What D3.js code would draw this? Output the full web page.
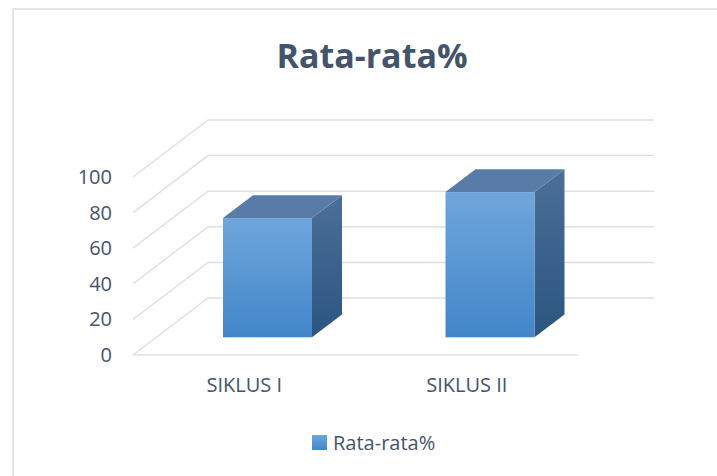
<!DOCTYPE html>
<html>
<head>
<meta charset="utf-8">
<script src="https://cdn.jsdelivr.net/npm/d3@7"></script>
<style>
  body { margin: 0; background: #fff; }
  text { font-family: "Open Sans", sans-serif; fill: #44546A; }
</style>
</head>
<body>
<div id="chart"></div>
<script>
// data
const categories = ["SIKLUS I", "SIKLUS II"];
const values = [67, 81.6];
const seriesName = "Rata-rata%";
const yTicks = [0, 20, 40, 60, 80, 100];

const width = 717, height = 476;
const svg = d3.select("#chart").append("svg")
  .attr("width", width)
  .attr("height", height);

// chart border
svg.append("rect")
  .attr("x", 13).attr("y", 9)
  .attr("width", 720).attr("height", 480)
  .attr("fill", "none")
  .attr("stroke", "#D9DDE3")
  .attr("stroke-width", 1.5);

// gradients
const defs = svg.append("defs");
function grad(id, c1, c2) {
  const g = defs.append("linearGradient").attr("id", id)
    .attr("x1", 0).attr("y1", 0).attr("x2", 0).attr("y2", 1);
  g.append("stop").attr("offset", "0%").attr("stop-color", c1);
  g.append("stop").attr("offset", "100%").attr("stop-color", c2);
}
grad("front", "#6FA6DC", "#4286C9");
grad("side", "#4B6F98", "#2B5580");

// scales (front plane)
const y = d3.scaleLinear().domain([0, 100]).range([355, 177]);
const x = d3.scaleBand().domain(categories).range([133, 578])
  .paddingInner(0.6).paddingOuter(0.3);

// depth of the floor
const depthX = 75, depthY = -57;
const proj = (px, py, f) => [px + f * depthX, py + f * depthY];

// gridlines: side wall + back wall
const grid = svg.append("g")
  .attr("stroke", "#DDE0E5")
  .attr("stroke-width", 1.5)
  .attr("fill", "none");
yTicks.forEach(t => {
  const a = [133, y(t)];
  const b = proj(133, y(t), 1);
  grid.append("path").attr("d", d3.line()([a, b, [654, b[1]]]));
});
// floor front edge
grid.append("line")
  .attr("x1", 133).attr("y1", y(0))
  .attr("x2", 578).attr("y2", y(0));

// tick labels
svg.append("g").selectAll("text")
  .data(yTicks)
  .join("text")
  .attr("x", 112)
  .attr("y", d => y(d))
  .attr("dy", "0.35em")
  .attr("text-anchor", "end")
  .style("font-size", "20px")
  .text(d => d);

// bars
const f0 = 0.31, f1 = 0.71;
const bars = svg.append("g").selectAll("g")
  .data(categories.map((c, i) => ({ c, v: values[i] })))
  .join("g");

bars.each(function (d) {
  const g = d3.select(this);
  const x0 = x(d.c), x1 = x(d.c) + x.bandwidth();
  const yt = y(d.v), yb = y(0);
  const line = d3.line();
  // right side
  g.append("path")
    .attr("d", line([proj(x1, yt, f0), proj(x1, yt, f1), proj(x1, yb, f1), proj(x1, yb, f0)]) + "Z")
    .attr("fill", "url(#side)");
  // top
  g.append("path")
    .attr("d", line([proj(x0, yt, f0), proj(x0, yt, f1), proj(x1, yt, f1), proj(x1, yt, f0)]) + "Z")
    .attr("fill", "#587CA7");
  // front
  const tl = proj(x0, yt, f0);
  g.append("rect")
    .attr("x", tl[0]).attr("y", tl[1])
    .attr("width", x.bandwidth())
    .attr("height", yb - yt)
    .attr("fill", "url(#front)");
});

// category labels
svg.append("g").selectAll("text")
  .data(categories)
  .join("text")
  .attr("x", d => x(d) + x.bandwidth() / 2)
  .attr("y", 385)
  .attr("dy", "0.35em")
  .attr("text-anchor", "middle")
  .style("font-size", "20px")
  .text(d => d);

// title
svg.append("text")
  .attr("x", 372).attr("y", 68)
  .attr("text-anchor", "middle")
  .style("font-size", "34px")
  .style("font-weight", "bold")
  .text(seriesName);

// legend
const legend = svg.append("g").attr("transform", "translate(312,435)");
legend.append("rect")
  .attr("width", 15).attr("height", 15)
  .attr("fill", "url(#front)");
legend.append("text")
  .attr("x", 21).attr("y", 7.5)
  .attr("dy", "0.35em")
  .style("font-size", "20px")
  .text(seriesName);
</script>
</body>
</html>
